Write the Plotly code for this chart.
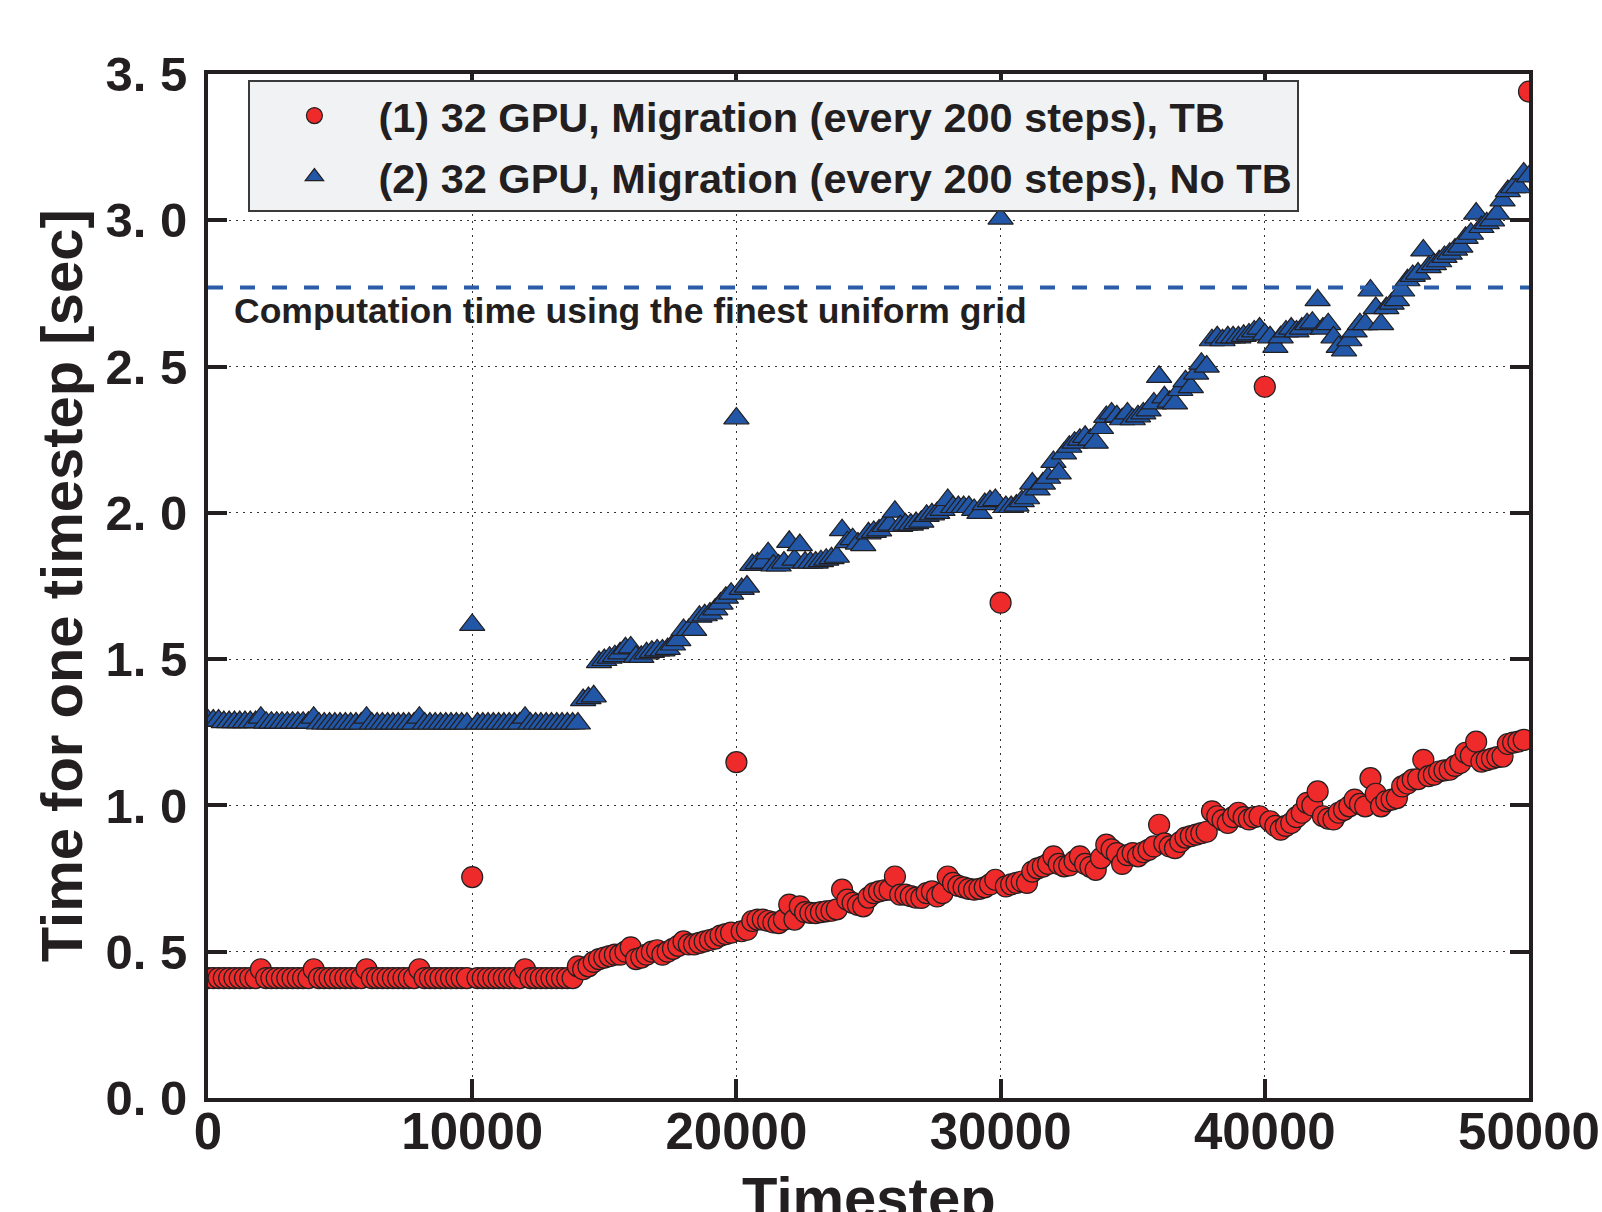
import plotly.graph_objects as go

# Timesteps: one measurement every 200 steps from 0 to 50000
timesteps = list(range(0, 50001, 200))

# (1) 32 GPU, Migration (every 200 steps), TB  -- red circles
time_tb = [
    0.41, 0.41, 0.41, 0.41, 0.41, 0.41, 0.41, 0.41, 0.41, 0.41,
    0.44, 0.41, 0.41, 0.41, 0.41, 0.41, 0.41, 0.41, 0.41, 0.41,
    0.44, 0.41, 0.41, 0.41, 0.41, 0.41, 0.41, 0.41, 0.41, 0.41,
    0.44, 0.41, 0.41, 0.41, 0.41, 0.41, 0.41, 0.41, 0.41, 0.41,
    0.44, 0.41, 0.41, 0.41, 0.41, 0.41, 0.41, 0.41, 0.41, 0.41,
    0.755, 0.41, 0.41, 0.41, 0.41, 0.41, 0.41, 0.41, 0.41, 0.41,
    0.44, 0.41, 0.41, 0.41, 0.41, 0.41, 0.41, 0.41, 0.41, 0.41,
    0.45, 0.44, 0.45, 0.465, 0.475, 0.48, 0.485, 0.49, 0.49, 0.50,
    0.515, 0.475, 0.48, 0.49, 0.50, 0.505, 0.49, 0.50, 0.51, 0.52,
    0.535, 0.525, 0.525, 0.53, 0.535, 0.54, 0.545, 0.555, 0.56, 0.565,
    1.148, 0.57, 0.575, 0.605, 0.61, 0.61, 0.605, 0.60, 0.598, 0.61,
    0.661, 0.61, 0.655, 0.635, 0.633, 0.632, 0.635, 0.638, 0.64, 0.645,
    0.712, 0.678, 0.667, 0.66, 0.655, 0.685, 0.70, 0.706, 0.71, 0.712,
    0.757, 0.695, 0.695, 0.69, 0.685, 0.684, 0.70, 0.706, 0.689, 0.70,
    0.757, 0.735, 0.725, 0.72, 0.715, 0.712, 0.715, 0.72, 0.73, 0.746,
    1.693, 0.723, 0.73, 0.735, 0.74, 0.735, 0.774, 0.785, 0.791, 0.80,
    0.826, 0.80, 0.792, 0.795, 0.81, 0.826, 0.80, 0.79, 0.78, 0.82,
    0.866, 0.85, 0.837, 0.80, 0.83, 0.837, 0.826, 0.84, 0.848, 0.86,
    0.934, 0.87, 0.86, 0.854, 0.875, 0.89, 0.895, 0.90, 0.905, 0.91,
    0.98, 0.963, 0.95, 0.94, 0.96, 0.975, 0.96, 0.952, 0.96, 0.963,
    2.431, 0.946, 0.93, 0.917, 0.93, 0.94, 0.96, 0.975, 1.009, 1.00,
    1.048, 0.963, 0.955, 0.952, 0.975, 0.985, 0.997, 1.02, 1.005, 0.997,
    1.093, 1.04, 0.997, 1.015, 1.02, 1.025, 1.065, 1.075, 1.088, 1.09,
    1.156, 1.10, 1.105, 1.116, 1.12, 1.122, 1.135, 1.145, 1.18, 1.17,
    1.218, 1.15, 1.155, 1.16, 1.165, 1.167, 1.21, 1.215, 1.218, 1.224,
    3.44,
]

# (2) 32 GPU, Migration (every 200 steps), No TB  -- blue triangles
time_no_tb = [
    1.29, 1.29, 1.29, 1.285, 1.285, 1.285, 1.285, 1.285, 1.285, 1.285,
    1.30, 1.283, 1.283, 1.283, 1.283, 1.283, 1.283, 1.283, 1.283, 1.283,
    1.30, 1.28, 1.28, 1.28, 1.28, 1.28, 1.28, 1.28, 1.28, 1.28,
    1.30, 1.28, 1.28, 1.28, 1.28, 1.28, 1.28, 1.28, 1.28, 1.28,
    1.30, 1.28, 1.28, 1.28, 1.28, 1.28, 1.28, 1.28, 1.28, 1.28,
    1.617, 1.28, 1.28, 1.28, 1.28, 1.28, 1.28, 1.28, 1.28, 1.28,
    1.30, 1.28, 1.28, 1.28, 1.28, 1.28, 1.28, 1.28, 1.28, 1.28,
    1.28, 1.36, 1.367, 1.373, 1.49, 1.497, 1.505, 1.51, 1.52, 1.537,
    1.54, 1.508, 1.508, 1.52, 1.525, 1.53, 1.53, 1.535, 1.55, 1.565,
    1.60, 1.60, 1.60, 1.645, 1.65, 1.656, 1.67, 1.69, 1.71, 1.724,
    2.323, 1.74, 1.748, 1.822, 1.828, 1.83, 1.862, 1.82, 1.82, 1.83,
    1.901, 1.84, 1.89, 1.83, 1.83, 1.83, 1.835, 1.84, 1.845, 1.85,
    1.941, 1.90, 1.91, 1.895, 1.89, 1.93, 1.935, 1.94, 1.955, 1.96,
    2.004, 1.955, 1.96, 1.96, 1.965, 1.97, 1.99, 1.995, 2.00, 2.01,
    2.044, 2.02, 2.02, 2.02, 2.02, 2.01, 2.00, 2.03, 2.04, 2.044,
    3.006, 2.02, 2.02, 2.025, 2.04, 2.05, 2.10, 2.08, 2.10, 2.12,
    2.174, 2.135, 2.203, 2.226, 2.24, 2.25, 2.26, 2.25, 2.24, 2.29,
    2.328, 2.34, 2.33, 2.32, 2.34, 2.32, 2.33, 2.34, 2.35, 2.374,
    2.465, 2.395, 2.38, 2.374, 2.42, 2.45, 2.43, 2.476, 2.51, 2.50,
    2.59, 2.60, 2.59, 2.60, 2.60, 2.60, 2.605, 2.61, 2.62, 2.63,
    2.61, 2.60, 2.567, 2.60, 2.62, 2.63, 2.62, 2.63, 2.645, 2.65,
    2.727, 2.63, 2.645, 2.60, 2.567, 2.555, 2.59, 2.62, 2.645, 2.645,
    2.76, 2.70, 2.645, 2.70, 2.715, 2.727, 2.76, 2.795, 2.81, 2.818,
    2.897, 2.84, 2.85, 2.86, 2.875, 2.886, 2.90, 2.91, 2.94, 2.954,
    3.023, 2.977, 2.99, 3.00, 3.023, 3.068, 3.10, 3.113, 3.113, 3.16,
    3.15,
]

uniform_grid_time = 2.77
series_names = [
    "(1) 32 GPU, Migration (every 200 steps), TB",
    "(2) 32 GPU, Migration (every 200 steps), No TB",
]
uniform_label = "Computation time using the finest uniform grid"
x_title = "Timestep"
y_title = "Time for one timestep [sec]"
x_tickvals = [0, 10000, 20000, 30000, 40000, 50000]
x_ticktext = ["0", "10000", "20000", "30000", "40000", "50000"]
y_tickvals = [0.0, 0.5, 1.0, 1.5, 2.0, 2.5, 3.0, 3.5]
y_ticktext = ["0. 0", "0. 5", "1. 0", "1. 5", "2. 0", "2. 5", "3. 0", "3. 5"]

FONT = "Liberation Sans, Arial, Helvetica, sans-serif"
INK = "#231f20"
RED = "#ee2a2a"
BLUE = "#2157a6"

fig = go.Figure()
fig.add_trace(go.Scatter(
    x=timesteps, y=time_tb, mode="markers", name=series_names[0],
    legendgroup="g1",
    marker=dict(symbol="circle", size=21, color=RED,
                line=dict(color=INK, width=1.2)),
))
fig.add_trace(go.Scatter(
    x=timesteps, y=time_no_tb, mode="markers", name=series_names[1],
    legendgroup="g2",
    marker=dict(symbol="triangle-up", size=22, color=BLUE,
                line=dict(color=INK, width=1.2)),
))

fig.add_shape(type="line", xref="x", yref="y", x0=0, x1=50000,
              y0=uniform_grid_time, y1=uniform_grid_time,
              line=dict(color="#2b5ca8", width=4, dash="15px,17px"))

fig.add_annotation(text=uniform_label, xref="paper", yref="y",
                   x=0.018, y=2.69, xanchor="left", yanchor="middle",
                   showarrow=False,
                   font=dict(family=FONT, size=35.5, color=INK, weight="bold"))

fig.add_annotation(text=x_title, xref="paper", yref="paper",
                   x=0.5, y=-0.063, xanchor="center", yanchor="top",
                   showarrow=False,
                   font=dict(family=FONT, size=58, color=INK, weight="bold"))
fig.add_annotation(text=y_title, xref="paper", yref="paper",
                   x=-0.111, y=0.5, xanchor="center", yanchor="middle",
                   textangle=-90, showarrow=False,
                   font=dict(family=FONT, size=58, color=INK, weight="bold"))

axis_common = dict(
    showline=True, linecolor=INK, linewidth=4, mirror="ticks",
    ticks="inside", ticklen=19, tickwidth=4, tickcolor=INK,
    showgrid=True, gridcolor="#333333", gridwidth=1.3, griddash="2px,5px",
    zeroline=False, automargin=False,
)

fig.update_xaxes(range=[0, 50000], tickvals=x_tickvals, ticktext=x_ticktext,
                 ticklabelstandoff=-14,
                 tickfont=dict(family=FONT, size=51, color=INK, weight="bold"),
                 **axis_common)
fig.update_yaxes(range=[0, 3.5], tickvals=y_tickvals, ticktext=y_ticktext,
                 ticklabelstandoff=7,
                 tickfont=dict(family=FONT, size=49, color=INK, weight="bold"),
                 **axis_common)

fig.update_layout(
    width=1602, height=1212,
    margin=dict(l=207.5, r=72.5, t=73.5, b=113.5),
    plot_bgcolor="white", paper_bgcolor="white",
    font=dict(family=FONT, color=INK),
    showlegend=True,
    legend=dict(
        x=0.0306, y=0.994, xanchor="left", yanchor="top",
        bgcolor="#f1f2f4", bordercolor="#3a3a3a", borderwidth=2,
        font=dict(family=FONT, size=41.5, color=INK, weight="bold"),
        itemwidth=118, tracegroupgap=4,
    ),
)

fig.write_html("out.html")
